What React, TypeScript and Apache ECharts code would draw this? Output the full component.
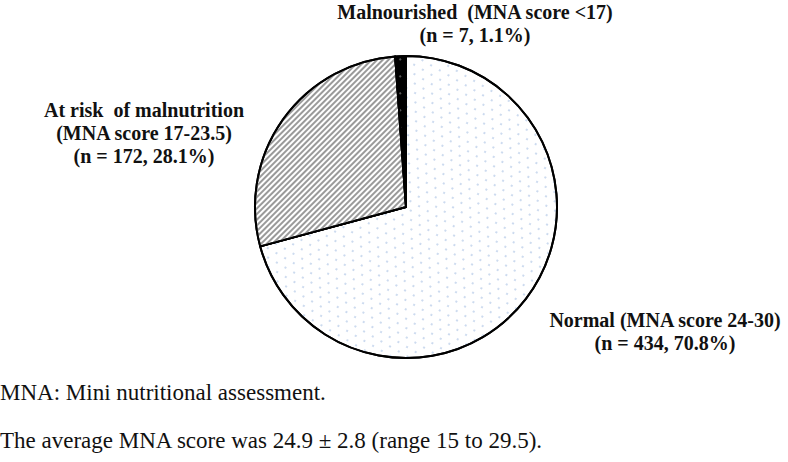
import React, { useEffect, useRef } from "react";
import * as echarts from "echarts";

const categories = ["Normal", "At risk of malnutrition", "Malnourished"];
const counts = [434, 172, 7];
const percents = [70.8, 28.1, 1.1];
const labelLines = [
  ["Normal (MNA score 24-30)", "(n = 434, 70.8%)"],
  ["At risk  of malnutrition", "(MNA score 17-23.5)", "(n = 172, 28.1%)"],
  ["Malnourished  (MNA score <17)", "(n = 7, 1.1%)"],
];
const footnotes = [
  "MNA: Mini nutritional assessment.",
  "The average MNA score was 24.9 ± 2.8 (range 15 to 29.5).",
];

const SERIF = '"Liberation Serif", "Times New Roman", serif';

const labelPos = [
  { x: 665, y: 331 },
  { x: 144, y: 133 },
  { x: 475, y: 23 },
];

export default function App() {
  const ref = useRef<HTMLDivElement>(null);
  useEffect(() => {
    if (!ref.current) return;
    const chart = echarts.init(ref.current, undefined, { renderer: "svg" });
    const itemStyles = [
      {
        color: "#ffffff",
        decal: {
          symbol: "circle",
          symbolSize: 0.7,
          color: "#7fa3d6",
          dashArrayX: [[2, 8], [0, 5, 2, 3]],
          dashArrayY: [2, 6],
        },
      },
      {
        color: "#ffffff",
        decal: {
          symbol: "rect",
          symbolSize: 1,
          color: "#9a9a9a",
          dashArrayX: [1, 0],
          dashArrayY: [2, 1.2],
          rotation: -Math.PI / 4,
        },
      },
      {
        color: "#000000",
        decal: {
          symbol: "circle",
          symbolSize: 0.6,
          color: "#ffffff",
          dashArrayX: [2, 10],
          dashArrayY: [2, 10],
        },
      },
    ];
    chart.setOption({
      animation: false,
      aria: { enabled: true, decal: { show: true } },
      series: [
        {
          type: "pie",
          center: [406, 207],
          radius: 151,
          startAngle: 90,
          clockwise: true,
          avoidLabelOverlap: false,
          itemStyle: { borderColor: "#000", borderWidth: 2 },
          labelLine: { show: false },
          label: {
            show: true,
            position: "outside",
            fontFamily: SERIF,
            fontWeight: "bold",
            fontSize: 20,
            lineHeight: 23,
            color: "#111",
            align: "center",
            formatter: (p: any) => labelLines[p.dataIndex].join("\n"),
          },
          labelLayout: (p: any) => ({
            x: labelPos[p.dataIndex].x,
            y: labelPos[p.dataIndex].y,
            align: "center",
            verticalAlign: "middle",
            hideOverlap: false,
          }),
          data: categories.map((name, i) => ({
            name,
            value: counts[i],
            percent: percents[i],
            itemStyle: itemStyles[i],
          })),
        },
      ],
      graphic: footnotes.map((t, i) => ({
        type: "text",
        left: 0,
        top: i === 0 ? 381 : 429,
        style: {
          text: t,
          font: `23px ${SERIF}`,
          fill: "#111",
        },
      })),
    });
    return () => chart.dispose();
  }, []);
  return (
    <div
      ref={ref}
      style={{ position: "fixed", left: 0, top: 0, width: 788, height: 462, background: "#fff" }}
    />
  );
}
